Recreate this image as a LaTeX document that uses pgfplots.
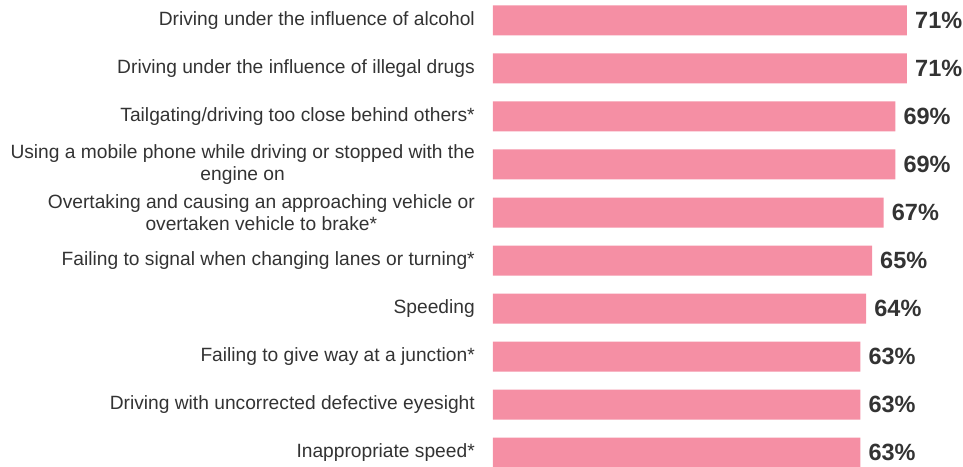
\documentclass[border=0pt]{standalone}
\usepackage{pgfplots}
\pgfplotsset{compat=1.18}
\usepackage{fontspec}
\setmainfont{Liberation Sans}
\definecolor{barpink}{HTML}{F58FA4}
\definecolor{txt}{HTML}{333333}

\begin{document}
\begin{tikzpicture}
\useasboundingbox (-493bp,0) rectangle (470bp,467bp);
\begin{axis}[
    scale only axis,
    width=414bp, height=467bp,
    at={(0,0)}, anchor=south west,
    xbar,
    bar width=30bp,
    xmin=0, xmax=71,
    ymin=-0.427, ymax=9.302,
    y dir=reverse,
    axis line style={draw=none},
    major tick length=0pt,
    xtick=\empty,
    ytick={0,...,9},
    yticklabels={
        Driving under the influence of alcohol,
        Driving under the influence of illegal drugs,
        Tailgating/driving too close behind others*,
        {Using a mobile phone while driving or stopped with the\\engine on},
        {Overtaking and causing an approaching vehicle or\\overtaken vehicle to brake*},
        Failing to signal when changing lanes or turning*,
        Speeding,
        Failing to give way at a junction*,
        Driving with uncorrected defective eyesight,
        Inappropriate speed*},
    yticklabel style={font=\fontsize{19.2bp}{22bp}\selectfont, text=txt,
        align=center, anchor=east, inner sep=0pt, xshift=-18bp},
    point meta=x,
    nodes near coords={\pgfmathprintnumber[assume math mode=true]{\pgfplotspointmeta}\%},
    every node near coord/.append style={font=\fontsize{23.5bp}{26bp}\selectfont\bfseries,
        text=txt, anchor=west, inner sep=0pt, xshift=8bp},
    clip=false,
]
\addplot[fill=barpink, draw=none] coordinates {
    (71,0) (71,1) (69,2) (69,3) (67,4) (65,5) (64,6) (63,7) (63,8) (63,9)};
\end{axis}
\end{tikzpicture}
\end{document}
